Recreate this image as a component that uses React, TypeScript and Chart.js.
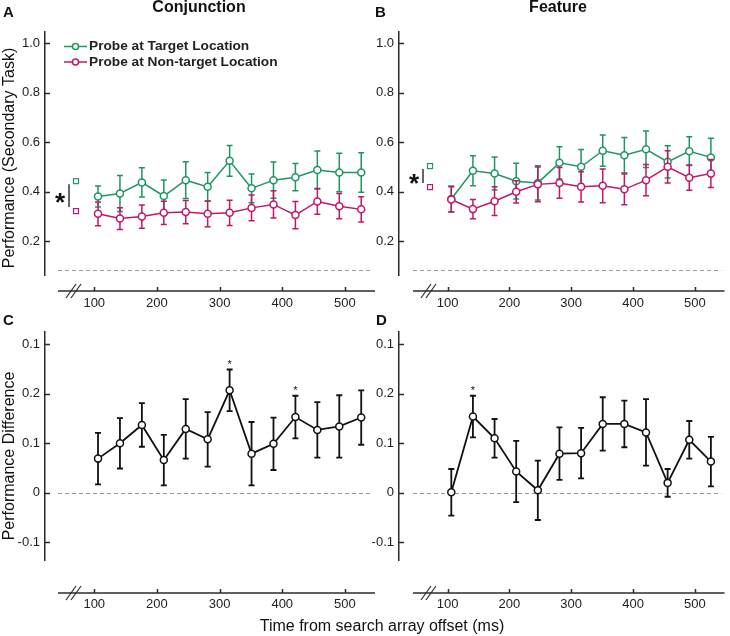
import React, { useEffect, useRef } from 'react';
import { Chart, registerables } from 'chart.js';

Chart.register(...registerables);

const FONT = '"Liberation Sans", Arial, Helvetica, sans-serif';
const GREEN = '#1f9660';
const MAGENTA = '#c2166b';
const BLACK = '#111111';
const AXIS = '#2b2b2b';

// ---------- data ----------
const times = [106, 141, 176, 211, 246, 281, 316, 351, 386, 421, 456, 491, 526];

const conjTarget = [0.381, 0.393, 0.438, 0.383, 0.447, 0.42, 0.525, 0.414, 0.447, 0.459, 0.488, 0.478, 0.478];
const conjTargetErr = [0.042, 0.073, 0.059, 0.065, 0.074, 0.058, 0.062, 0.058, 0.073, 0.055, 0.077, 0.078, 0.08];
const conjNontarget = [0.311, 0.292, 0.3, 0.315, 0.318, 0.311, 0.315, 0.335, 0.349, 0.306, 0.361, 0.342, 0.329];
const conjNontargetErr = [0.048, 0.044, 0.047, 0.047, 0.047, 0.052, 0.051, 0.052, 0.055, 0.055, 0.052, 0.051, 0.051];

const featTarget = [0.371, 0.485, 0.474, 0.443, 0.436, 0.517, 0.501, 0.566, 0.548, 0.572, 0.521, 0.564, 0.539];
const featTargetErr = [0.052, 0.061, 0.067, 0.072, 0.069, 0.065, 0.07, 0.063, 0.071, 0.074, 0.065, 0.058, 0.077];
const featNontarget = [0.369, 0.33, 0.362, 0.4, 0.43, 0.436, 0.42, 0.424, 0.41, 0.447, 0.501, 0.457, 0.474];
const featNontargetErr = [0.051, 0.039, 0.058, 0.045, 0.07, 0.062, 0.061, 0.068, 0.062, 0.063, 0.065, 0.051, 0.057];

const conjDiff = [0.069, 0.1, 0.137, 0.066, 0.129, 0.108, 0.207, 0.079, 0.099, 0.153, 0.127, 0.134, 0.152];
const conjDiffErr = [0.052, 0.051, 0.044, 0.051, 0.06, 0.055, 0.042, 0.064, 0.053, 0.043, 0.056, 0.063, 0.055];
const featDiff = [0.001, 0.154, 0.11, 0.043, 0.005, 0.079, 0.08, 0.139, 0.139, 0.122, 0.02, 0.107, 0.063];
const featDiffErr = [0.047, 0.042, 0.039, 0.062, 0.06, 0.053, 0.051, 0.054, 0.047, 0.067, 0.028, 0.038, 0.05];

const conjMeans = [0.443, 0.322]; // target, non-target
const featMeans = [0.504, 0.419];
const conjSignificant = [316, 421];
const featSignificant = [141];

const xTicks = [100, 200, 300, 400, 500];
const perfTicks = [0.2, 0.4, 0.6, 0.8, 1.0];
const perfTickLabels = ['0.2', '0.4', '0.6', '0.8', '1.0'];
const diffTicks = [-0.1, 0, 0.1, 0.2, 0.3];
const diffTickLabels = ['-0.1', '0', '0.1', '0.2', '0.1'];
const chanceLevel = 0.083;

const legendLabels = ['Probe at Target Location', 'Probe at Non-target Location'];

// ---------- panel specs ----------
type Series = { values: number[]; errors: number[]; color: string; lw: number };
type Spec = {
  area: { left: number; right: number; top: number; bottom: number };
  yMin: number; yMax: number;
  yTicks: number[]; yLabels: string[];
  xAxisY: number; xAxisStart: number;
  xLabelPad: number;
  refValue: number;
  series: Series[];
  letter: string; letterX: number; letterY: number;
  title?: string; titleX?: number;
  yTitle?: string; yTitleY?: number;
  xTitle?: string;
  legend?: boolean;
  means?: number[];
  stars?: number[];
};

const X_MIN = 21.4;
const X_MAX = 548;

const specs: Spec[] = [
  {
    area: { left: 45, right: 375, top: 32, bottom: 275 },
    yMin: 0.0638, yMax: 1.0457, yTicks: perfTicks, yLabels: perfTickLabels,
    xAxisY: 291, xAxisStart: 58, xLabelPad: 21, refValue: chanceLevel,
    series: [
      { values: conjNontarget, errors: conjNontargetErr, color: MAGENTA, lw: 1.5 },
      { values: conjTarget, errors: conjTargetErr, color: GREEN, lw: 1.5 },
    ],
    letter: 'A', letterX: 3, letterY: 17,
    title: 'Conjunction', titleX: 199,
    yTitle: 'Performance (Secondary Task)', yTitleY: 158,
    legend: true, means: conjMeans,
  },
  {
    area: { left: 399, right: 729, top: 32, bottom: 275 },
    yMin: 0.0638, yMax: 1.0457, yTicks: perfTicks, yLabels: perfTickLabels,
    xAxisY: 291, xAxisStart: 413, xLabelPad: 21, refValue: chanceLevel,
    series: [
      { values: featNontarget, errors: featNontargetErr, color: MAGENTA, lw: 1.5 },
      { values: featTarget, errors: featTargetErr, color: GREEN, lw: 1.5 },
    ],
    letter: 'B', letterX: 375, letterY: 17,
    title: 'Feature', titleX: 558,
    means: featMeans,
  },
  {
    area: { left: 45, right: 375, top: 332, bottom: 560 },
    yMin: -0.1358, yMax: 0.3248, yTicks: diffTicks, yLabels: diffTickLabels,
    xAxisY: 593, xAxisStart: 58, xLabelPad: 37, refValue: 0,
    series: [{ values: conjDiff, errors: conjDiffErr, color: BLACK, lw: 1.8 }],
    letter: 'C', letterX: 3, letterY: 325,
    yTitle: 'Performance Difference', yTitleY: 456,
    xTitle: 'Time from search array offset (ms)',
    stars: conjSignificant,
  },
  {
    area: { left: 399, right: 729, top: 332, bottom: 560 },
    yMin: -0.1358, yMax: 0.3248, yTicks: diffTicks, yLabels: diffTickLabels,
    xAxisY: 593, xAxisStart: 413, xLabelPad: 37, refValue: 0,
    series: [{ values: featDiff, errors: featDiffErr, color: BLACK, lw: 1.8 }],
    letter: 'D', letterX: 376, letterY: 325,
    stars: featSignificant,
  },
];

function drawStar(ctx: CanvasRenderingContext2D, x: number, cy: number, size: number, bold: boolean) {
  ctx.font = `${bold ? 'bold ' : ''}${size}px ${FONT}`;
  ctx.textAlign = 'center';
  ctx.textBaseline = 'alphabetic';
  ctx.fillText('*', x, cy + size * 0.58);
}

function makePlugin(spec: Spec) {
  return {
    id: 'panelDecor',
    beforeDatasetsDraw(chart: any) {
      const ctx = chart.ctx as CanvasRenderingContext2D;
      const ys = chart.scales.y;
      const ca = chart.chartArea;
      const y = Math.round(ys.getPixelForValue(spec.refValue)) + 0.5;
      ctx.save();
      ctx.strokeStyle = '#9a9a9a';
      ctx.lineWidth = 1;
      ctx.setLineDash([4, 3]);
      ctx.beginPath();
      ctx.moveTo(spec.xAxisStart, y);
      ctx.lineTo(ca.right - 3, y);
      ctx.stroke();
      ctx.restore();
    },
    beforeDatasetDraw(chart: any, args: any) {
      const ctx = chart.ctx as CanvasRenderingContext2D;
      const ys = chart.scales.y;
      const s = spec.series[args.index];
      ctx.save();
      ctx.strokeStyle = s.color;
      ctx.lineWidth = s.lw;
      args.meta.data.forEach((pt: any, i: number) => {
        const x = pt.x;
        const y1 = ys.getPixelForValue(s.values[i] + s.errors[i]);
        const y2 = ys.getPixelForValue(s.values[i] - s.errors[i]);
        ctx.beginPath();
        ctx.moveTo(x, y1); ctx.lineTo(x, y2);
        ctx.moveTo(x - 3, y1); ctx.lineTo(x + 3, y1);
        ctx.moveTo(x - 3, y2); ctx.lineTo(x + 3, y2);
        ctx.stroke();
      });
      ctx.restore();
    },
    afterDraw(chart: any) {
      const ctx = chart.ctx as CanvasRenderingContext2D;
      const xs = chart.scales.x;
      const ys = chart.scales.y;
      const ca = chart.chartArea;
      ctx.save();
      // x axis line
      ctx.strokeStyle = AXIS;
      ctx.lineWidth = 1.5;
      ctx.beginPath();
      ctx.moveTo(spec.xAxisStart, spec.xAxisY);
      ctx.lineTo(ca.right, spec.xAxisY);
      ctx.stroke();
      xTicks.forEach((v) => {
        const px = Math.round(xs.getPixelForValue(v)) + 0.5;
        ctx.beginPath();
        ctx.moveTo(px, spec.xAxisY);
        ctx.lineTo(px, spec.xAxisY - 4);
        ctx.stroke();
      });
      // axis break
      ctx.lineWidth = 1.2;
      [spec.xAxisStart + 13, spec.xAxisStart + 18].forEach((cx) => {
        ctx.beginPath();
        ctx.moveTo(cx - 5, spec.xAxisY + 7);
        ctx.lineTo(cx + 5, spec.xAxisY - 7);
        ctx.stroke();
      });
      // y ticks (inward)
      ctx.lineWidth = 1.5;
      spec.yTicks.forEach((v) => {
        const py = Math.round(ys.getPixelForValue(v)) + 0.5;
        ctx.beginPath();
        ctx.moveTo(ca.left, py);
        ctx.lineTo(ca.left + 5, py);
        ctx.stroke();
      });

      ctx.fillStyle = '#111';
      // panel letter
      ctx.font = `bold 15px ${FONT}`;
      ctx.textAlign = 'left';
      ctx.textBaseline = 'alphabetic';
      ctx.fillText(spec.letter, spec.letterX, spec.letterY);
      // title
      if (spec.title) {
        ctx.font = `bold 16px ${FONT}`;
        ctx.textAlign = 'center';
        ctx.textBaseline = 'middle';
        ctx.fillText(spec.title, spec.titleX!, 8);
      }
      // y title
      if (spec.yTitle) {
        ctx.save();
        ctx.translate(10, spec.yTitleY!);
        ctx.rotate(-Math.PI / 2);
        ctx.font = `16px ${FONT}`;
        ctx.textAlign = 'center';
        ctx.textBaseline = 'middle';
        ctx.fillText(spec.yTitle, 0, 0);
        ctx.restore();
      }
      // x title
      if (spec.xTitle) {
        ctx.font = `16px ${FONT}`;
        ctx.textAlign = 'center';
        ctx.textBaseline = 'middle';
        ctx.fillText(spec.xTitle, 382, 627);
      }
      // legend
      if (spec.legend) {
        const rows = [
          { label: legendLabels[0], color: GREEN, y: 46.5 },
          { label: legendLabels[1], color: MAGENTA, y: 62 },
        ];
        rows.forEach((r) => {
          ctx.strokeStyle = r.color;
          ctx.lineWidth = 1.5;
          ctx.beginPath();
          ctx.moveTo(64, r.y);
          ctx.lineTo(87, r.y);
          ctx.stroke();
          ctx.fillStyle = '#fff';
          ctx.beginPath();
          ctx.arc(75.5, r.y, 3, 0, Math.PI * 2);
          ctx.fill();
          ctx.stroke();
          ctx.fillStyle = '#222';
          ctx.font = `bold 13.7px ${FONT}`;
          ctx.textAlign = 'left';
          ctx.textBaseline = 'middle';
          ctx.fillText(r.label, 89, r.y);
        });
      }
      // significance marker next to y axis
      if (spec.means) {
        const yT = ys.getPixelForValue(spec.means[0]);
        const yN = ys.getPixelForValue(spec.means[1]);
        const lineX = ca.left + 24;
        const sqX = ca.left + 31;
        ctx.strokeStyle = '#333';
        ctx.lineWidth = 1.5;
        ctx.beginPath();
        ctx.moveTo(lineX, yT + 3);
        ctx.lineTo(lineX, yN - 4);
        ctx.stroke();
        ctx.fillStyle = '#111';
        drawStar(ctx, ca.left + 15, (yT + yN) / 2, 26, true);
        ctx.lineWidth = 1.2;
        ctx.fillStyle = '#fff';
        [[yT, GREEN], [yN, MAGENTA]].forEach(([yy, col]) => {
          ctx.strokeStyle = col as string;
          ctx.fillRect(sqX - 2.5, (yy as number) - 2.5, 5, 5);
          ctx.strokeRect(sqX - 2.5, (yy as number) - 2.5, 5, 5);
        });
      }
      // significance stars above points
      if (spec.stars) {
        const s = spec.series[0];
        ctx.fillStyle = '#111';
        spec.stars.forEach((t) => {
          const i = times.indexOf(t);
          const px = xs.getPixelForValue(t);
          const top = ys.getPixelForValue(s.values[i] + s.errors[i]);
          drawStar(ctx, px, top - 8, 11, false);
        });
      }
      ctx.restore();
    },
  };
}

function Panel({ spec }: { spec: Spec }) {
  const ref = useRef<HTMLCanvasElement>(null);
  useEffect(() => {
    const W = 730, H = 636, YW = 40, XH = 60;
    const chart = new Chart(ref.current as HTMLCanvasElement, {
      type: 'line',
      data: {
        datasets: spec.series.map((s) => ({
          data: times.map((t, i) => ({ x: t, y: s.values[i] })),
          borderColor: s.color,
          borderWidth: s.lw,
          pointRadius: 3.5,
          pointBackgroundColor: '#ffffff',
          pointBorderColor: s.color,
          pointBorderWidth: 1.5,
          tension: 0,
          fill: false,
        })),
      },
      options: {
        responsive: false,
        animation: false,
        events: [],
        layout: {
          padding: {
            left: spec.area.left - YW,
            right: W - spec.area.right,
            top: spec.area.top,
            bottom: H - spec.area.bottom - XH,
          },
        },
        plugins: { legend: { display: false }, tooltip: { enabled: false }, title: { display: false } },
        scales: {
          x: {
            type: 'linear',
            min: X_MIN,
            max: X_MAX,
            afterBuildTicks: (scale: any) => {
              scale.ticks = xTicks.map((v) => ({ value: v }));
            },
            afterFit: (scale: any) => {
              scale.height = XH;
              scale.paddingLeft = 0;
              scale.paddingRight = 0;
            },
            grid: { display: false, drawTicks: false },
            border: { display: false },
            ticks: {
              autoSkip: false,
              maxRotation: 0,
              padding: spec.xLabelPad,
              color: '#222',
              font: { family: FONT, size: 13 },
              callback: (v: any) => String(v),
            },
          },
          y: {
            type: 'linear',
            min: spec.yMin,
            max: spec.yMax,
            afterBuildTicks: (scale: any) => {
              scale.ticks = spec.yTicks.map((v) => ({ value: v }));
            },
            afterFit: (scale: any) => {
              scale.width = YW;
              scale.paddingTop = 0;
              scale.paddingBottom = 0;
            },
            grid: { display: false, drawTicks: false },
            border: { display: true, color: AXIS, width: 1.5 },
            ticks: {
              autoSkip: false,
              padding: 5,
              color: '#222',
              font: { family: FONT, size: 13 },
              callback: (v: any) => {
                const i = spec.yTicks.findIndex((t) => Math.abs(t - Number(v)) < 1e-9);
                return i >= 0 ? spec.yLabels[i] : '';
              },
            },
          },
        },
      } as any,
      plugins: [makePlugin(spec)],
    });
    return () => chart.destroy();
  }, [spec]);
  return (
    <canvas
      ref={ref}
      width={730}
      height={636}
      style={{ position: 'absolute', left: 0, top: 0, width: 730, height: 636 }}
    />
  );
}

export default function App() {
  return (
    <div style={{ position: 'absolute', left: 0, top: 0, width: 730, height: 636, background: '#fff', overflow: 'hidden' }}>
      {specs.map((s, i) => (
        <Panel key={i} spec={s} />
      ))}
    </div>
  );
}
